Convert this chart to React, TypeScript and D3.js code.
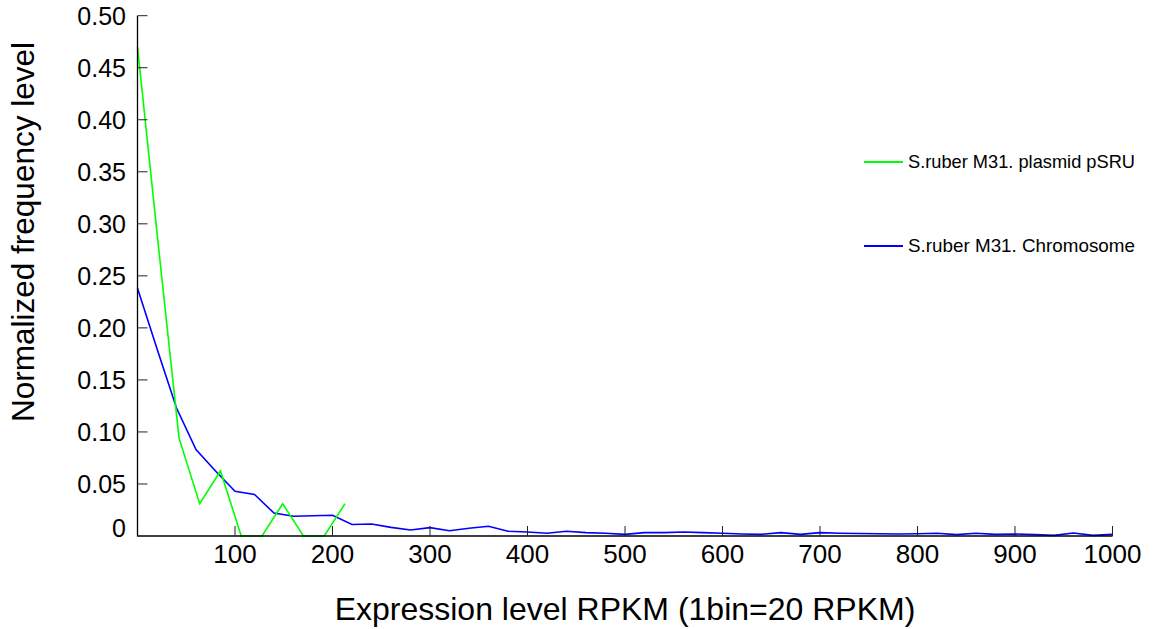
import React from "react";
import * as d3 from "d3";

// ---- data ----
const plasmidBins: number[] = [0, 21.3, 42.6, 63.8, 85.1, 106.4, 127.7, 148.9, 170.2, 191.5, 212.8];
const plasmidValues: number[] = [0.47, 0.28, 0.094, 0.031, 0.0625, 0, 0, 0.031, 0, 0, 0.031];

const chromosomeBins: number[] = [
  0, 20, 40, 60, 80, 100, 120, 140, 160, 180, 200, 220, 240, 260, 280, 300, 320, 340, 360, 380,
  400, 420, 440, 460, 480, 500, 520, 540, 560, 580, 600, 620, 640, 660, 680, 700, 720, 740, 760,
  780, 800, 820, 840, 860, 880, 900, 920, 940, 960, 980, 1000,
];
const chromosomeValues: number[] = [
  0.238, 0.18, 0.123, 0.083, 0.0625, 0.043, 0.04, 0.022, 0.019, 0.0195, 0.02, 0.011, 0.0115,
  0.0083, 0.0058, 0.008, 0.0051, 0.0074, 0.0093, 0.0045, 0.0038, 0.0026, 0.0045, 0.0032, 0.0026,
  0.0016, 0.0032, 0.0032, 0.0038, 0.0032, 0.0026, 0.0019, 0.0016, 0.0032, 0.0016, 0.0032, 0.0026,
  0.0024, 0.0022, 0.0019, 0.0022, 0.0026, 0.0013, 0.0026, 0.0016, 0.0019, 0.0013, 0.0006, 0.0029,
  0.0006, 0.0016,
];

const xTickValues: number[] = [100, 200, 300, 400, 500, 600, 700, 800, 900, 1000];
const yTickValues: number[] = [0, 0.05, 0.1, 0.15, 0.2, 0.25, 0.3, 0.35, 0.4, 0.45, 0.5];

const seriesNames: string[] = ["S.ruber M31. plasmid pSRU", "S.ruber M31. Chromosome"];
const seriesColors: string[] = ["#00ff00", "#0000ff"];

const xTitle = "Expression level RPKM (1bin=20 RPKM)";
const yTitle = "Normalized frequency level";

export default function App() {
  const W = 1155;
  const H = 629;
  const x = d3.scaleLinear().domain([0, 1000]).range([137.5, 1112.5]);
  const y = d3.scaleLinear().domain([0, 0.5]).range([536, 15.7]);

  const line = d3
    .line<[number, number]>()
    .x((d) => x(d[0]))
    .y((d) => y(d[1]));

  const plasmid: [number, number][] = plasmidBins.map((b, i) => [b, plasmidValues[i]]);
  const chrom: [number, number][] = chromosomeBins.map((b, i) => [b, chromosomeValues[i]]);

  const font = "'Liberation Sans', Arial, Helvetica, sans-serif";
  const x0 = x(0);
  const y0 = y(0);

  const legendY = [162, 246];

  return (
    <svg
      width={W}
      height={H}
      style={{ position: "absolute", left: 0, top: 0, display: "block", background: "#fff" }}
      fontFamily={font}
    >
      <rect x={0} y={0} width={W} height={H} fill="#fff" />

      {/* lines */}
      <path d={line(chrom) || ""} fill="none" stroke={seriesColors[1]} strokeWidth={1.6} />
      <path d={line(plasmid) || ""} fill="none" stroke={seriesColors[0]} strokeWidth={1.6} />

      {/* axes */}
      <line x1={x0} y1={y(0.5)} x2={x0} y2={y0 + 0.5} stroke="#000" strokeWidth={1.3} />
      <line x1={x0} y1={y0} x2={x(1000)} y2={y0} stroke="#000" strokeWidth={1.3} />

      {yTickValues.map((v) => (
        <g key={"yt" + v}>
          {v > 0 && (
            <line x1={x0} y1={y(v)} x2={x0 + 10} y2={y(v)} stroke="#222" strokeWidth={1} />
          )}
          <text
            x={126}
            y={y(v)}
            dy={v === 0 ? "0.05em" : "0.36em"}
            textAnchor="end"
            fontSize={25}
            fill="#000"
          >
            {v === 0 ? "0" : v.toFixed(2)}
          </text>
        </g>
      ))}

      {xTickValues.map((v) => (
        <g key={"xt" + v}>
          <line x1={x(v)} y1={y0} x2={x(v)} y2={y0 - 10} stroke="#222" strokeWidth={1} />
          <text x={x(v)} y={562.5} textAnchor="middle" fontSize={26} fill="#000">
            {v}
          </text>
        </g>
      ))}

      {/* axis titles */}
      <text x={625} y={620} textAnchor="middle" fontSize={32} fill="#000">
        {xTitle}
      </text>
      <text
        transform={`translate(34, 232) rotate(-90)`}
        textAnchor="middle"
        fontSize={31.5}
        fill="#000"
      >
        {yTitle}
      </text>

      {/* legend */}
      {seriesNames.map((name, i) => (
        <g key={name}>
          <line
            x1={864}
            y1={legendY[i]}
            x2={903}
            y2={legendY[i]}
            stroke={seriesColors[i]}
            strokeWidth={1.8}
          />
          <text
            x={908}
            y={legendY[i] + 5.5}
            fontSize={19}
            fill="#000"
            textLength={227}
            lengthAdjust="spacingAndGlyphs"
          >
            {name}
          </text>
        </g>
      ))}
    </svg>
  );
}
